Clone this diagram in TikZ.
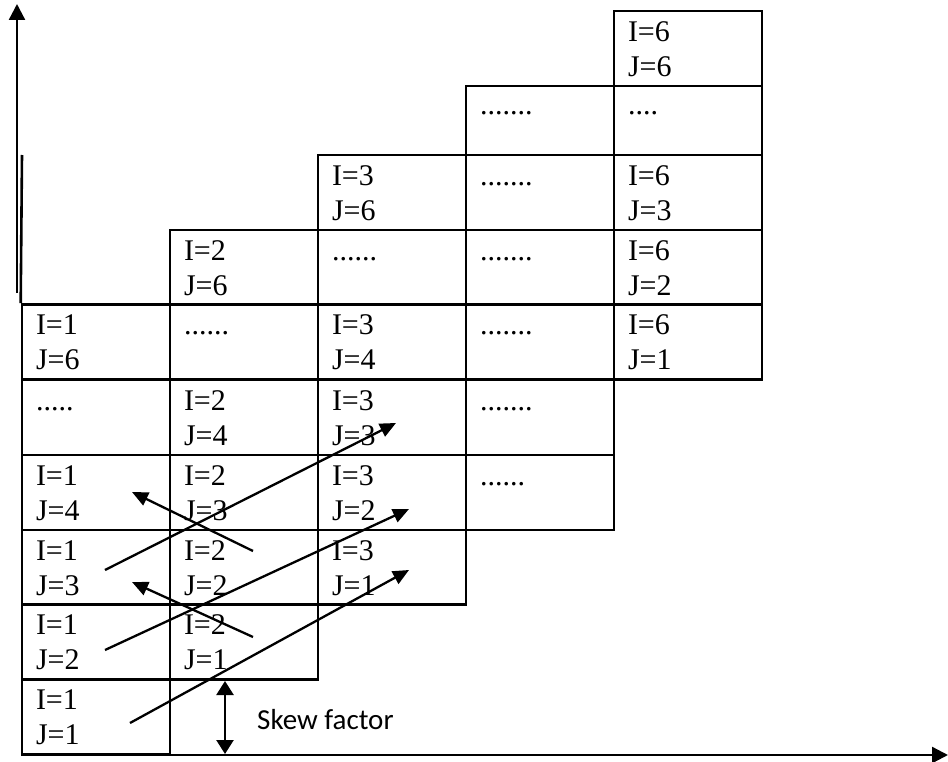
\documentclass[tikz,border=0pt]{standalone}
\usepackage{fontspec}
\setmainfont{Liberation Serif}
\newfontfamily\calibrifont{Carlito}
\usetikzlibrary{arrows.meta}
\tikzset{
  cellbox/.style={draw, line width=2.6pt, minimum width=148pt, inner sep=0pt,
    text width=120pt, align=left, text height=27pt, text depth=41pt,
    font=\fontsize{30}{35}\selectfont},
  tablerule/.style={line width=2.6pt},
  arr/.style={line width=2.3pt, -{Triangle[length=16pt,width=14pt]}},
  dblarr/.style={line width=2.4pt, {Triangle[length=14pt,width=17pt]}-{Triangle[length=14pt,width=17pt]}},
  axis/.style={line width=2.4pt, -{Triangle[length=16pt,width=16pt]}},
  skewlbl/.style={font=\calibrifont\fontsize{29}{33}\selectfont, anchor=base west, inner sep=0pt},
}
\newcommand\mkcell[6][]{\node[cellbox,minimum height={(#5-#4)*1pt},#1] (#2) at ({#3+74},{(#4+#5)/2}) {#6};}
\begin{document}
\begin{tikzpicture}[x=1pt,y=-1pt]
\useasboundingbox (0,0) rectangle (948,762);
% column 1
\mkcell{c1a}{22}{304.5}{379.3}{I=1\\J=6}
\mkcell{c1b}{22}{379.3}{455}{.....\\~}
\mkcell{c1c}{22}{455}{530}{I=1\\J=4}
\mkcell{c1d}{22}{530}{604.3}{I=1\\J=3}
\mkcell{c1e}{22}{604.3}{679.3}{I=1\\J=2}
\mkcell{c1f}{22}{679.3}{754.3}{I=1\\J=1}
% column 2
\mkcell{c2a}{170}{230}{304.5}{I=2\\J=6}
\mkcell{c2b}{170}{304.5}{379.3}{......\\~}
\mkcell{c2c}{170}{379.3}{455}{I=2\\J=4}
\mkcell{c2d}{170}{455}{530}{I=2\\J=3}
\mkcell{c2e}{170}{530}{604.3}{I=2\\J=2}
\mkcell{c2f}{170}{604.3}{679.3}{I=2\\J=1}
% column 3
\mkcell{c3a}{318}{155}{230}{I=3\\J=6}
\mkcell{c3b}{318}{230}{304.5}{......\\~}
\mkcell{c3c}{318}{304.5}{379.3}{I=3\\J=4}
\mkcell{c3d}{318}{379.3}{455}{I=3\\J=3}
\mkcell{c3e}{318}{455}{530}{I=3\\J=2}
\mkcell{c3f}{318}{530}{604.3}{I=3\\J=1}
% column 4
\mkcell[text height=28.5pt,text depth=39.5pt]{c4a}{466}{86}{155}{.......\\~}
\mkcell{c4b}{466}{155}{230}{.......\\~}
\mkcell{c4c}{466}{230}{304.5}{.......\\~}
\mkcell{c4d}{466}{304.5}{379.3}{.......\\~}
\mkcell{c4e}{466}{379.3}{455}{.......\\~}
\mkcell{c4f}{466}{455}{530}{......\\~}
% column 5
\mkcell{c5a}{614}{11}{86}{I=6\\J=6}
\mkcell[text height=28.5pt,text depth=39.5pt]{c5b}{614}{86}{155}{....\\~}
\mkcell{c5c}{614}{155}{230}{I=6\\J=3}
\mkcell{c5d}{614}{230}{304.5}{I=6\\J=2}
\mkcell{c5e}{614}{304.5}{379.3}{I=6\\J=1}
% left table border above the cells
\coordinate (lb) at (22,155);
\draw[tablerule] (lb) -- (c1a.north west);
% axes
\coordinate (yo) at (17,293);
\coordinate (ye) at (17,4);
\draw[axis] (yo) -- (ye);
\coordinate (xo) at (22,755);
\coordinate (xe) at (948,755);
\draw[axis] (xo) -- (xe);
% diagonal arrows
\coordinate (d1s) at (130,723); \coordinate (d1e) at (409,570);
\coordinate (d2s) at (105,650); \coordinate (d2e) at (409,509);
\coordinate (d3s) at (105,570); \coordinate (d3e) at (396,423);
\coordinate (b1s) at (253,551); \coordinate (b1e) at (132,492);
\coordinate (b2s) at (253,637); \coordinate (b2e) at (132,582);
\draw[arr] (d1s) -- (d1e);
\draw[arr] (d2s) -- (d2e);
\draw[arr] (d3s) -- (d3e);
\draw[arr] (b1s) -- (b1e);
\draw[arr] (b2s) -- (b2e);
% skew factor
\coordinate (s1) at (225,681);
\coordinate (s2) at (225,754);
\draw[dblarr] (s1) -- (s2);
\node[skewlbl] (skew) at (257,729) {Skew factor};
\end{tikzpicture}
\end{document}
